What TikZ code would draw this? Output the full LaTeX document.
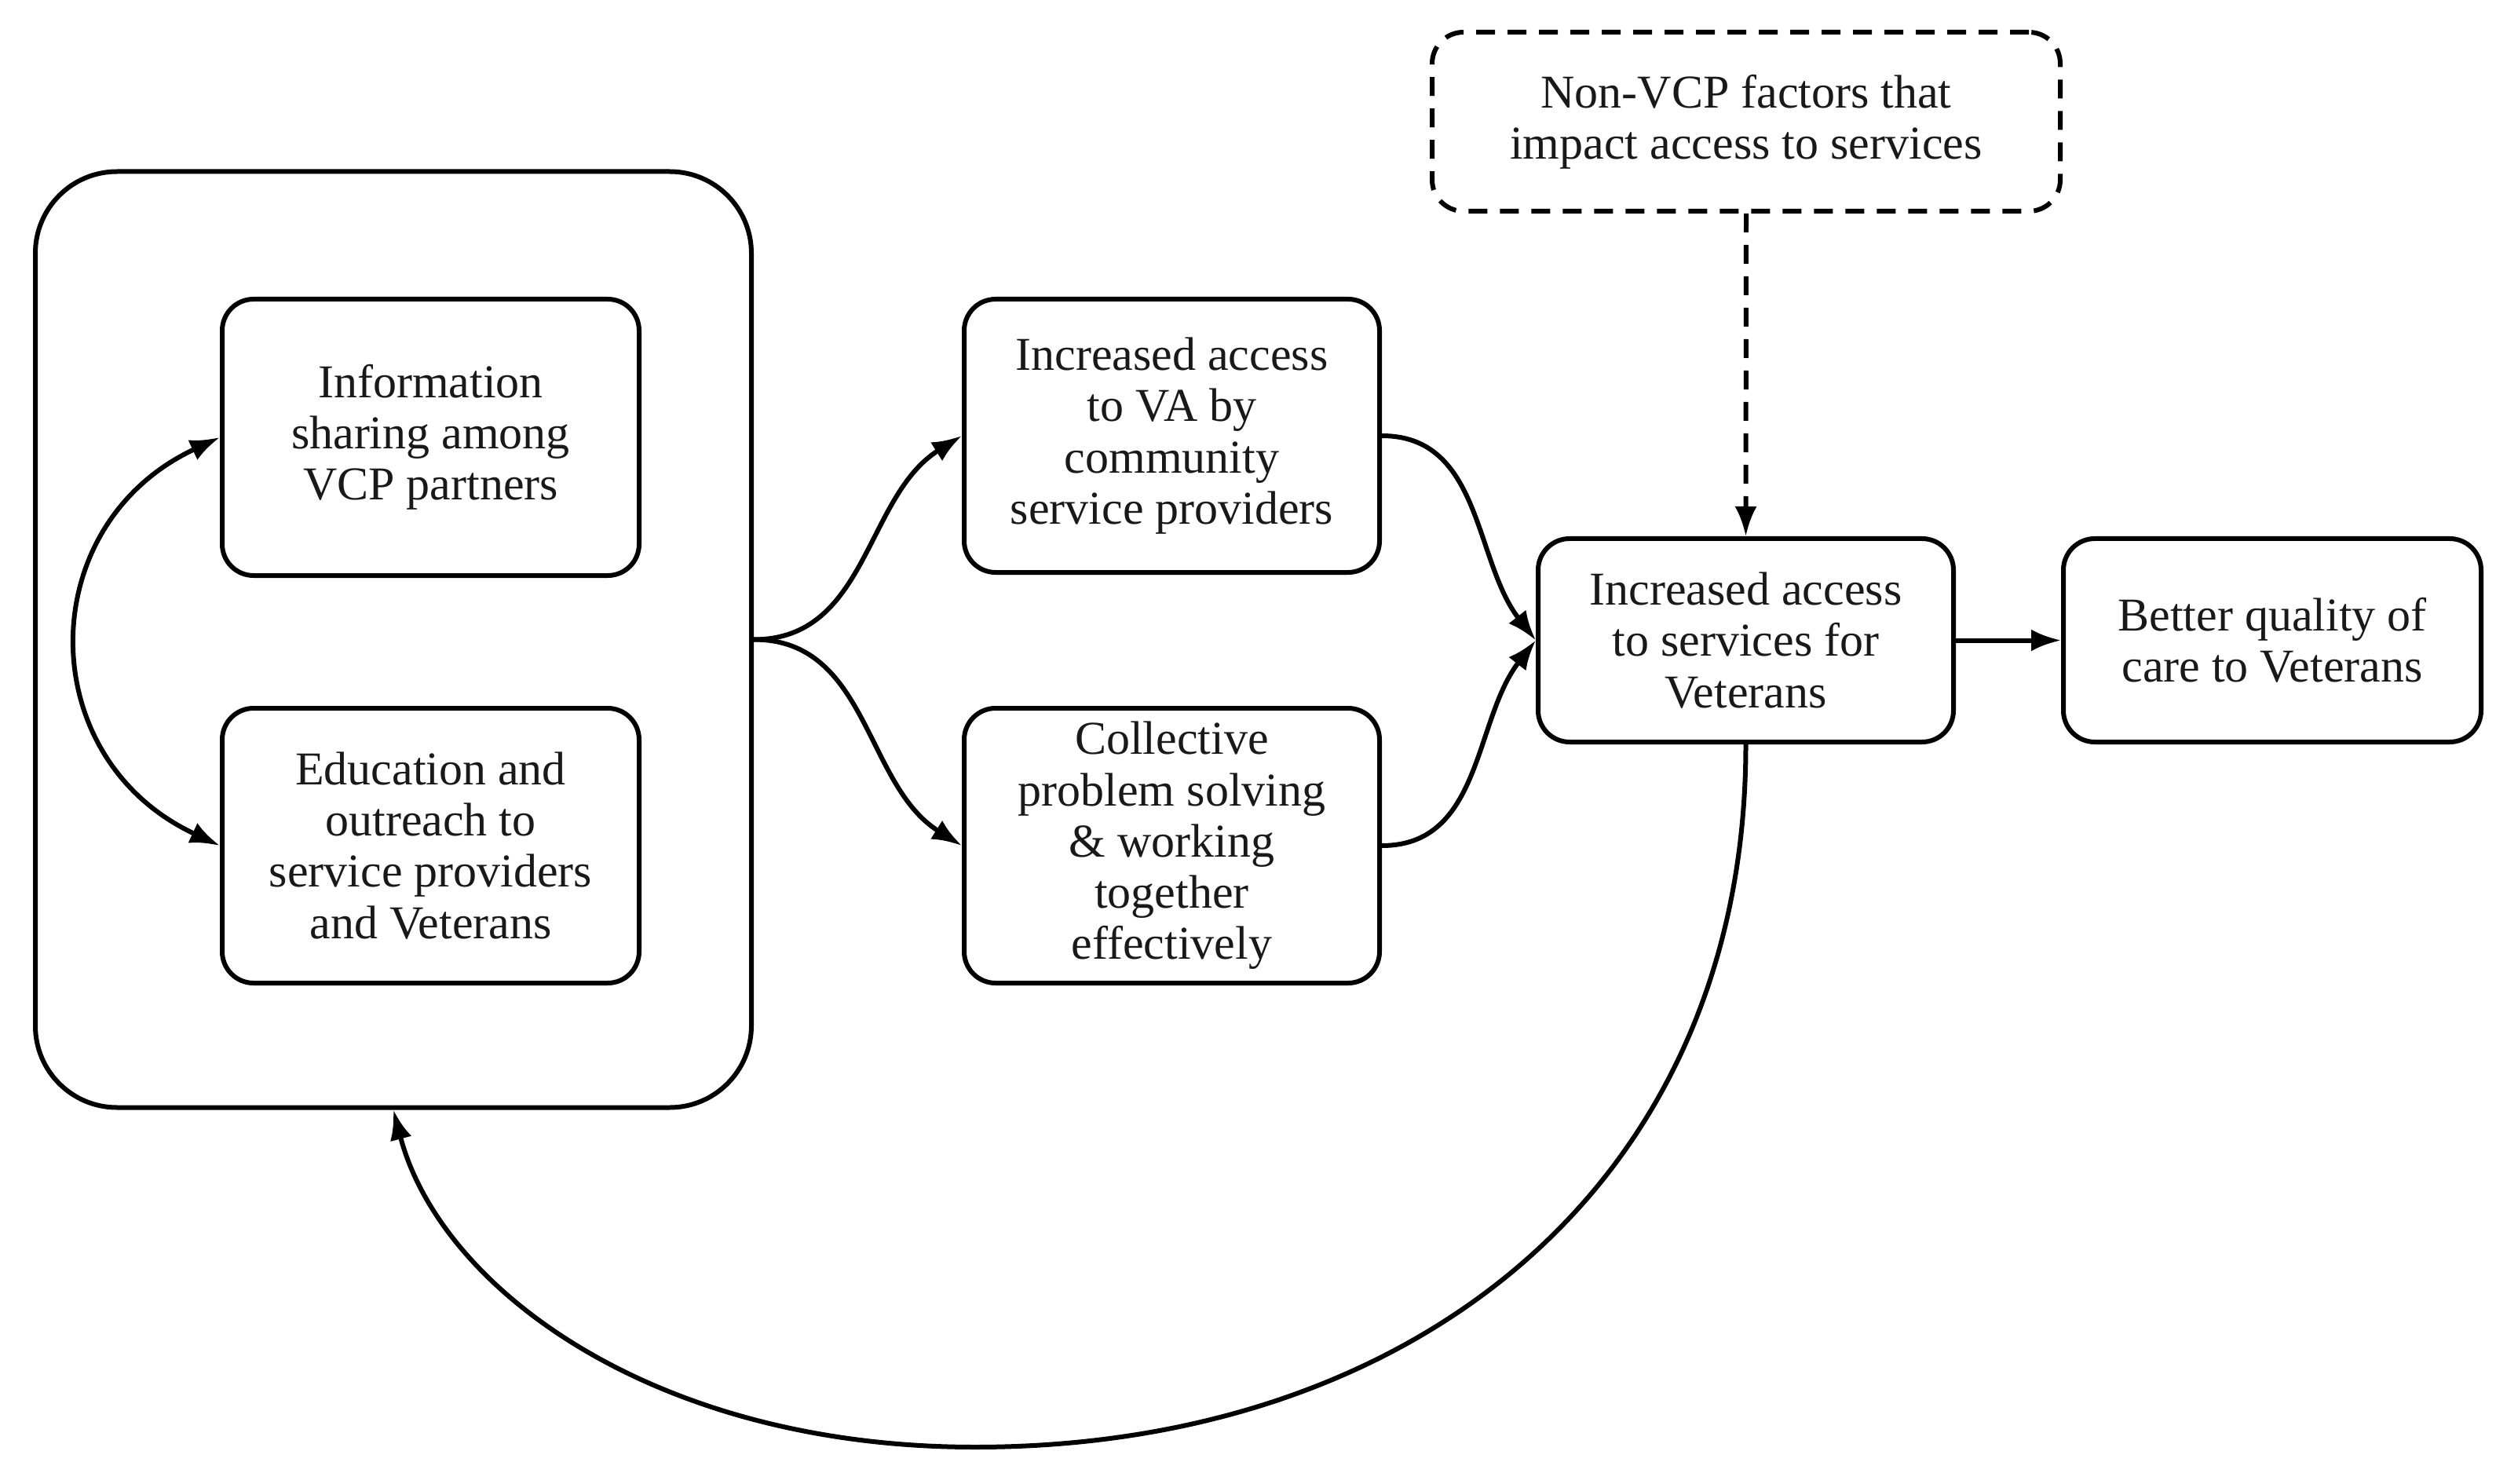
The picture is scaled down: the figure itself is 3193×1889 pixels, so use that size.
\documentclass[tikz,border=0pt]{standalone}
\usepackage{fontspec}
\setmainfont{Liberation Serif}
\usetikzlibrary{arrows.meta}
\begin{document}
\begin{tikzpicture}[x=0.25pt,y=0.25pt,
  box/.style={draw, line width=1.5pt, rounded corners=10pt, align=center,
    font=\fontsize{15}{16.3}\selectfont, inner sep=2pt, text=black!90},
  arr/.style={line width=1.5pt, -{Latex[length=9.5pt,width=7pt]}},
  dsh/.style={dash pattern=on 6pt off 4pt}]
\useasboundingbox (0,0) rectangle (3193,1889);
\node[draw, line width=1.5pt, rounded corners=26pt, minimum width=228pt, minimum height=298pt] (outer) at (501,1074.5) {};
\node[box, minimum width=132.75pt, minimum height=88pt] (info) at (548.5,1332) {Information\\sharing among\\VCP partners};
\node[box, minimum width=132.75pt, minimum height=87.5pt] (edu) at (548.5,812) {Education and\\outreach to\\service providers\\and Veterans};
\node[box, minimum width=132.25pt, minimum height=87pt] (va) at (1492.5,1334) {Increased access\\to VA by\\community\\service providers};
\node[box, minimum width=132.25pt, minimum height=87.5pt] (coll) at (1492.5,812) {Collective\\problem solving\\\&\ working\\together\\effectively};
\node[box, minimum width=132.25pt, minimum height=64.75pt] (serv) at (2223.5,1073.5) {Increased access\\to services for\\Veterans};
\node[box, minimum width=133pt, minimum height=64.75pt] (better) at (2894,1073.5) {Better quality of\\care to Veterans};
\node[box, dsh, minimum width=200pt, minimum height=57pt] (nonvcp) at (2224,1734) {Non-VCP factors that\\impact access to services};
\coordinate (low) at (1242,46);
% bidirectional arc
\draw[line width=1.5pt, {Latex[length=9.5pt,width=7pt]}-{Latex[length=9.5pt,width=7pt]}] (info.west) to[out=205,in=155,looseness=1.3] (edu.west);
% fork
\draw[arr] (outer.east) to[out=0,in=212] (va.west);
\draw[arr] (outer.east) to[out=0,in=148] (coll.west);
% merge
\draw[arr] (va.east) to[out=0,in=128] (serv.west);
\draw[arr] (coll.east) to[out=0,in=232] (serv.west);
% dashed
\draw[arr, dsh] (nonvcp.south) -- (serv.north);
\draw[arr] (serv.east) -- (better.west);
% feedback
\draw[arr] (serv.south) .. controls (2224,380) and (1800,46) .. (low) .. controls (830,46) and (560,250) .. (outer.south);
\end{tikzpicture}
\end{document}
